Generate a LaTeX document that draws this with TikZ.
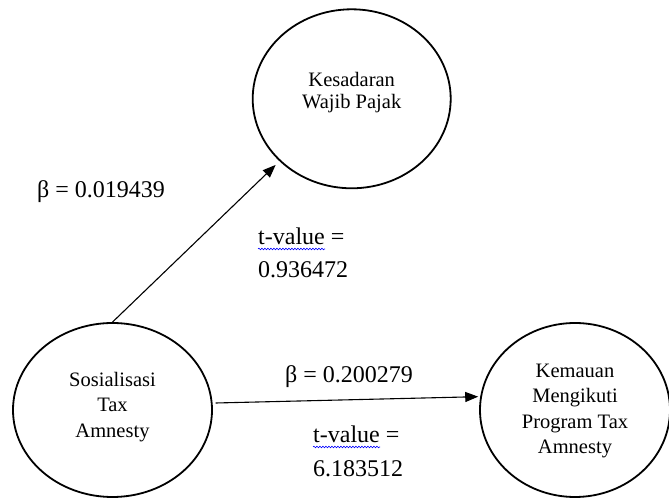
\documentclass[tikz,border=0pt]{standalone}
\usepackage{fontspec}
\setmainfont{Liberation Serif}
\usetikzlibrary{shapes.geometric,arrows.meta,decorations.pathmorphing}
\begin{document}
\begin{tikzpicture}[x=1pt,y=1pt,
  var/.style={ellipse,draw,line width=1.8pt,inner sep=0pt},
  vtext/.style={align=center,inner sep=0pt,font=\fontsize{20.5}{25.3}\selectfont},
  lbl/.style={anchor=base west,inner sep=0pt,font=\fontsize{24}{28}\selectfont},
  link/.style={line width=1.1pt,-{Triangle[length=13pt,width=10pt]}},
  wave/.style={blue,line width=0.6pt,decorate,decoration={snake,amplitude=0.8pt,segment length=3pt}}]
\useasboundingbox (0,0) rectangle (669,500);
\node[var,minimum width=198pt,minimum height=179pt] (kes) at (351.7,401.2) {};
\node[var,minimum width=199pt,minimum height=174pt] (sos) at (112.5,90) {};
\node[var,minimum width=190pt,minimum height=174pt] (kem) at (575,90) {};
\node[vtext,font=\fontsize{20.5}{22}\selectfont] (kest) at ([yshift=6.5pt]kes.center) {Kesadaran\\Wajib Pajak};
\node[vtext] (sost) at ([yshift=3pt]sos.center) {Sosialisasi\\Tax\\Amnesty};
\node[vtext] (kemt) at ([yshift=-1pt]kem.center) {Kemauan\\Mengikuti\\Program Tax\\Amnesty};
\draw[link] (sos.north) -- ([shift={(-4,-3.5)}]kes.221.5);
\draw[link] ([xshift=3pt]sos.4.5) -- ([xshift=-2pt]kem.172);
\node[lbl] (b1) at (37,302) {β = 0.019439};
\node[lbl] (t1a) at (258,255) {t-value =};
\node[lbl] (t1b) at (258,222) {0.936472};
\node[lbl] (b2) at (285,117) {β = 0.200279};
\node[lbl] (t2a) at (313,57) {t-value =};
\node[lbl] (t2b) at (313,23) {6.183512};
\draw[wave] ([yshift=-4pt]t1a.base west) -- ++(67,0);
\draw[wave] ([yshift=-4pt]t2a.base west) -- ++(67,0);
\end{tikzpicture}
\end{document}
